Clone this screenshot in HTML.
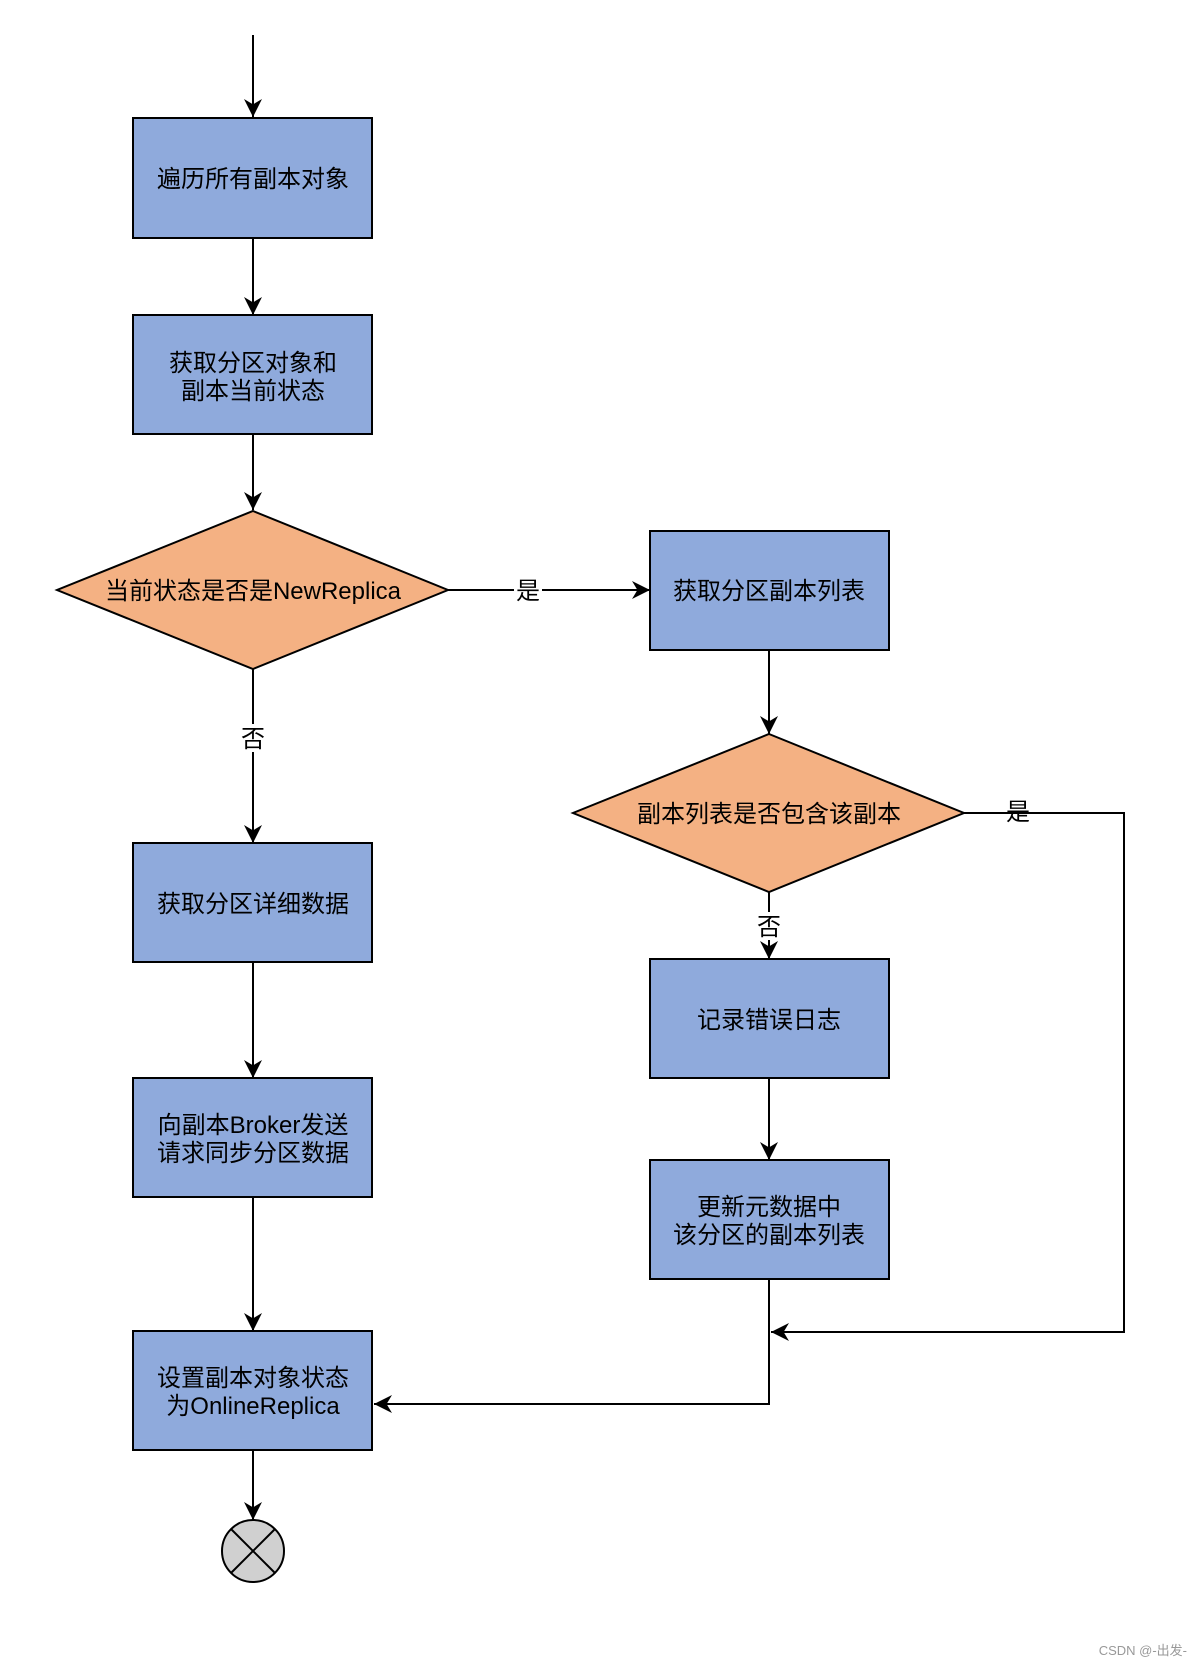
<!DOCTYPE html>
<html><head><meta charset="utf-8"><style>
body{margin:0;background:#fff}
svg text{font-family:"Liberation Sans","Noto Sans CJK SC",sans-serif;font-size:24px;fill:#000}
</style></head><body>
<svg width="1200" height="1663" viewBox="0 0 1200 1663" xmlns="http://www.w3.org/2000/svg">
<defs><marker id="b" viewBox="0 0 10 10" refX="10" refY="5" markerWidth="18" markerHeight="18" orient="auto" markerUnits="userSpaceOnUse"><path d="M0,0 L10,5 L0,10 L3,5z" fill="#000"/></marker></defs>
<g stroke="#000" stroke-width="2" fill="none">
<line x1="253" y1="35" x2="253" y2="117" marker-end="url(#b)"/>
<line x1="253" y1="238" x2="253" y2="315" marker-end="url(#b)"/>
<line x1="253" y1="434" x2="253" y2="510" marker-end="url(#b)"/>
<line x1="253" y1="669" x2="253" y2="843" marker-end="url(#b)"/>
<line x1="253" y1="962" x2="253" y2="1078" marker-end="url(#b)"/>
<line x1="253" y1="1197" x2="253" y2="1331" marker-end="url(#b)"/>
<line x1="253" y1="1450" x2="253" y2="1520" marker-end="url(#b)"/>
<line x1="448" y1="590" x2="650" y2="590" marker-end="url(#b)"/>
<line x1="769" y1="650" x2="769" y2="734" marker-end="url(#b)"/>
<line x1="769" y1="892" x2="769" y2="959" marker-end="url(#b)"/>
<line x1="769" y1="1078" x2="769" y2="1160" marker-end="url(#b)"/>
<polyline points="964,813 1124,813 1124,1332 771,1332" marker-end="url(#b)"/>
<polyline points="769,1279 769,1404 374,1404" marker-end="url(#b)"/>
</g>
<g stroke="#000" stroke-width="2" fill="#8faadc">
<rect x="133" y="118" width="239" height="120"/>
<rect x="133" y="315" width="239" height="119"/>
<rect x="650" y="531" width="239" height="119"/>
<rect x="133" y="843" width="239" height="119"/>
<rect x="650" y="959" width="239" height="119"/>
<rect x="133" y="1078" width="239" height="119"/>
<rect x="650" y="1160" width="239" height="119"/>
<rect x="133" y="1331" width="239" height="119"/>
</g>
<g stroke="#000" stroke-width="2" fill="#f4b183">
<polygon points="253,511 448,590 253,669 57,590"/>
<polygon points="769,734 964,813 769,892 573,813"/>
</g>
<circle cx="253" cy="1551" r="31" fill="#d0d0d0" stroke="#000" stroke-width="2"/>
<line x1="231" y1="1529" x2="275" y2="1573" stroke="#000" stroke-width="2"/>
<line x1="275" y1="1529" x2="231" y2="1573" stroke="#000" stroke-width="2"/>
<g text-anchor="middle">
<text x="253" y="187">遍历所有副本对象</text>
<text x="253" y="371">获取分区对象和</text>
<text x="253" y="399">副本当前状态</text>
<text x="253" y="599">当前状态是否是NewReplica</text>
<text x="769" y="599">获取分区副本列表</text>
<text x="769" y="822">副本列表是否包含该副本</text>
<text x="253" y="912">获取分区详细数据</text>
<text x="769" y="1028">记录错误日志</text>
<text x="253" y="1133">向副本Broker发送</text>
<text x="253" y="1161">请求同步分区数据</text>
<text x="769" y="1215">更新元数据中</text>
<text x="769" y="1243">该分区的副本列表</text>
<text x="253" y="1386">设置副本对象状态</text>
<text x="253" y="1414">为OnlineReplica</text>
</g>
<g text-anchor="middle">
<rect x="514" y="576" width="28" height="28" fill="#fff"/>
<text x="528" y="599">是</text>
<rect x="239" y="724" width="28" height="28" fill="#fff"/>
<text x="253" y="747">否</text>
<text x="1018" y="820">是</text>
<rect x="755" y="912" width="28" height="28" fill="#fff"/>
<text x="769" y="935">否</text>
</g>
<text x="1187" y="1655" text-anchor="end" style="font-size:13px;fill:#999">CSDN @-出发-</text>
</svg>
</body></html>
